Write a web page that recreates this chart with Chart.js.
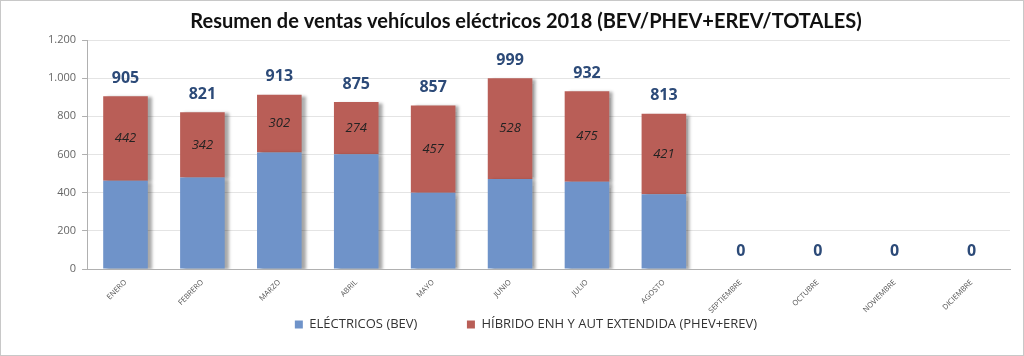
<!DOCTYPE html>
<html><head><meta charset="utf-8">
<script src="https://cdn.jsdelivr.net/npm/chart.js@4"></script>
<style>html,body{margin:0;padding:0;background:#fff;}#wrap{width:1024px;height:356px;position:relative;}</style>
</head><body><div id="wrap"><canvas id="c" width="1024" height="356"></canvas></div>
<script>
const categories = ["ENERO","FEBRERO","MARZO","ABRIL","MAYO","JUNIO","JULIO","AGOSTO","SEPTIEMBRE","OCTUBRE","NOVIEMBRE","DICIEMBRE"];
const bev = [463, 479, 611, 601, 400, 471, 457, 392, 0, 0, 0, 0];
const phev = [442, 342, 302, 274, 457, 528, 475, 421, 0, 0, 0, 0];
const yTicks = [0, 200, 400, 600, 800, 1000, 1200];
const titleText = "Resumen de ventas vehículos eléctricos 2018 (BEV/PHEV+EREV/TOTALES)";
const seriesNames = ["ELÉCTRICOS (BEV)", "HÍBRIDO ENH Y AUT EXTENDIDA (PHEV+EREV)"];

const fmt = v => String(v).replace(/\B(?=(\d{3})+(?!\d))/g, ".");

const shadowPlugin = {
  id: 'shadow',
  beforeDatasetDraw(chart) {
    const ctx = chart.ctx;
    ctx.save();
    ctx.shadowColor = 'rgba(0,0,0,0.35)';
    ctx.shadowOffsetX = 4;
    ctx.shadowOffsetY = 1;
    ctx.shadowBlur = 3;
  },
  afterDatasetDraw(chart) { chart.ctx.restore(); }
};

const labelPlugin = {
  id: 'labels',
  afterDatasetsDraw(chart) {
    const ctx = chart.ctx;
    const xs = chart.scales.x, ys = chart.scales.y;
    ctx.save();
    ctx.textAlign = 'center';
    ctx.textBaseline = 'middle';
    ctx.font = 'italic 13px "Open Sans", sans-serif';
    ctx.fillStyle = '#222';
    phev.forEach((v, i) => {
      if (!v) return;
      const x = xs.getPixelForValue(i);
      const y = ys.getPixelForValue(bev[i] + v / 2);
      ctx.fillText(String(v), x, y);
    });
    ctx.font = 'bold 16px "Open Sans", sans-serif';
    ctx.fillStyle = '#2c4a78';
    categories.forEach((c, i) => {
      const t = bev[i] + phev[i];
      const x = xs.getPixelForValue(i);
      const y = ys.getPixelForValue(t) - 18;
      ctx.fillText(fmt(t), x, y);
    });
    ctx.restore();
  },
  afterDraw(chart) {
    const ctx = chart.ctx;
    ctx.save();
    ctx.strokeStyle = '#c8c8c8';
    ctx.lineWidth = 1;
    ctx.strokeRect(0.5, 0.5, 1023, 355);
    ctx.restore();
  }
};

new Chart(document.getElementById('c'), {
  type: 'bar',
  data: {
    labels: categories,
    datasets: [
      { label: seriesNames[0], data: bev, backgroundColor: '#6f93c9', borderWidth: 0 },
      { label: seriesNames[1], data: phev, backgroundColor: '#b95e57', borderWidth: 0 }
    ]
  },
  options: {
    responsive: false,
    animation: false,
    layout: { padding: { left: 42, right: 14, top: 5, bottom: 15 } },
    datasets: { bar: { categoryPercentage: 1.0, barPercentage: 0.58 } },
    plugins: {
      title: {
        display: true, text: titleText, color: '#111',
        font: { family: 'Lato, "Open Sans", sans-serif', size: 20, weight: 'bold' },
        padding: { top: 5, bottom: 6 }
      },
      legend: {
        position: 'bottom',
        labels: {
          color: '#333', boxWidth: 8, boxHeight: 8, padding: 4,
          font: { family: '"Open Sans", sans-serif', size: 13 },
          generateLabels(chart) {
            const items = Chart.defaults.plugins.legend.labels.generateLabels(chart);
            items[0].text = items[0].text + '\u2002\u2002\u2002\u2002\u2002\u2002\u2002';
            return items;
          }
        }
      },
      tooltip: { enabled: false }
    },
    scales: {
      x: {
        stacked: true,
        afterFit(s) { s.height = 45; },
        grid: { display: false, drawTicks: false },
        border: { color: '#b0b0b0' },
        ticks: { color: '#555', maxRotation: 45, minRotation: 45, padding: 9,
          font: { family: '"Open Sans", sans-serif', size: 7.5 } }
      },
      y: {
        stacked: true, min: 0, max: 1200,
        afterBuildTicks(axis) { axis.ticks = yTicks.map(v => ({ value: v })); },
        grid: { color: '#e4e4e4', tickLength: 5, tickColor: '#b0b0b0' },
        border: { color: '#b0b0b0' },
        ticks: { color: '#666', padding: 6, callback: v => fmt(v),
          font: { family: '"Open Sans", sans-serif', size: 11 } }
      }
    }
  },
  plugins: [shadowPlugin, labelPlugin]
});
</script></body></html>
